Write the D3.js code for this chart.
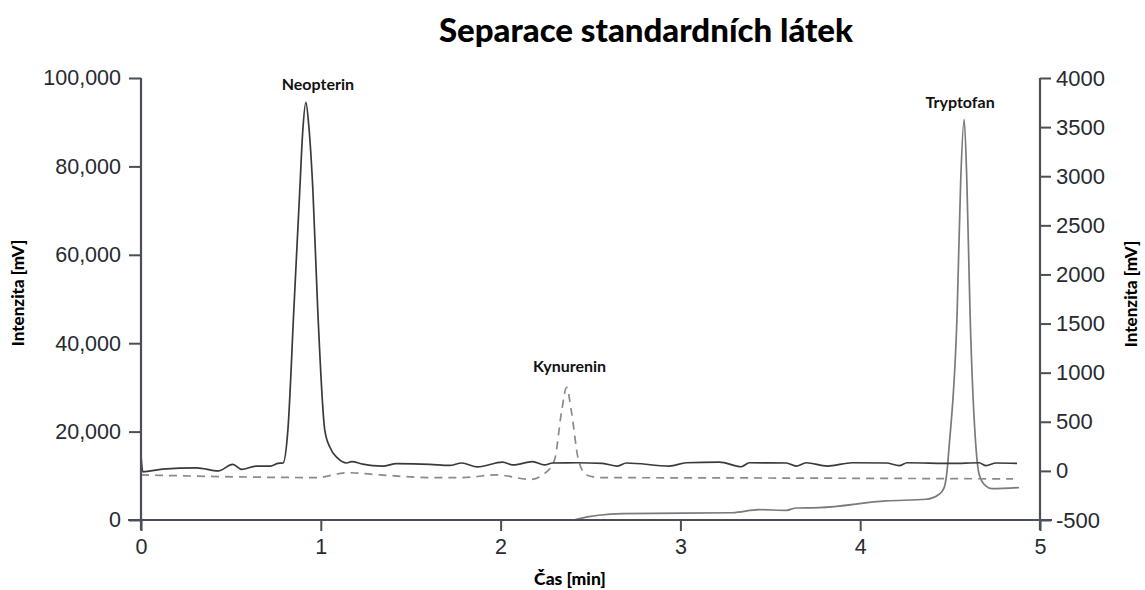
<!DOCTYPE html>
<html>
<head>
<meta charset="utf-8">
<script src="https://cdn.jsdelivr.net/npm/d3@7"></script>
<style>
  html, body { margin: 0; padding: 0; background: #fff; }
  svg { display: block; }
</style>
</head>
<body>
<svg id="chart" width="1145" height="590"></svg>
<script>
// ---- data ----
const title = "Separace standardních látek";
const xLabel = "Čas [min]";
const yLabelLeft = "Intenzita [mV]";
const yLabelRight = "Intenzita [mV]";

const xTicks = [0, 1, 2, 3, 4, 5];
const leftTicks = [0, 20000, 40000, 60000, 80000, 100000];
const rightTicks = [-500, 0, 500, 1000, 1500, 2000, 2500, 3000, 3500, 4000];

// Neopterin trace (left axis)
const timeNeo = [0, 0.01, 0.12, 0.31, 0.43, 0.51, 0.56, 0.64, 0.72, 0.76, 0.79, 0.817, 0.85, 0.883, 0.9, 0.917, 0.933, 0.956, 0.983, 1.022, 1.05, 1.094, 1.144, 1.172, 1.233, 1.289, 1.344, 1.422, 1.606, 1.717, 1.783, 1.872, 2.011, 2.067, 2.178, 2.244, 2.289, 2.422, 2.567, 2.65, 2.7, 2.939, 3.033, 3.217, 3.339, 3.383, 3.589, 3.644, 3.7, 3.817, 3.956, 4.144, 4.217, 4.261, 4.511, 4.661, 4.7, 4.756, 4.872];
const neopterin = [14700, 10900, 11500, 11800, 11100, 12600, 11450, 12200, 12200, 12800, 12900, 20400, 47500, 74600, 88200, 94500, 89300, 74600, 47500, 20400, 16500, 14000, 12900, 13200, 12650, 12300, 12200, 12750, 12600, 12350, 12900, 12000, 13100, 12450, 13200, 12450, 12900, 12950, 12800, 12200, 12900, 12200, 12950, 13100, 12050, 12950, 12900, 12200, 12950, 12200, 12950, 12900, 12300, 12950, 12800, 12950, 12300, 12900, 12800];

// Kynurenin trace (left axis, dashed)
const timeKyn = [0, 0.978, 1.144, 1.333, 1.606, 1.789, 1.978, 2.167, 2.244, 2.3, 2.339, 2.367, 2.394, 2.433, 2.478, 2.55, 3.5, 4.85];
const kynurenin = [10200, 9600, 10700, 10200, 9600, 9600, 10200, 9200, 10500, 13600, 24500, 30000, 24500, 13600, 10200, 9600, 9500, 9300];

// Tryptofan trace (right axis)
const timeTrp = [0, 2.411, 2.422, 2.678, 3.289, 3.439, 3.589, 3.644, 3.772, 4.144, 4.367, 4.439, 4.467, 4.483, 4.494, 4.539, 4.559, 4.578, 4.593, 4.611, 4.644, 4.661, 4.698, 4.733, 4.883];
const tryptofan = [-500, -500, -493, -436, -426, -395, -401, -378, -374, -306, -289, -238, -170, 0, 235, 1602, 2959, 3580, 2959, 1602, 235, -31, -153, -181, -170];

const peakNames = ["Neopterin", "Kynurenin", "Tryptofan"];

// ---- layout ----
const svg = d3.select("#chart");
const x = d3.scaleLinear().domain([0, 5]).range([141, 1040]);
const yL = d3.scaleLinear().domain([0, 100000]).range([520, 78]);
const yR = d3.scaleLinear().domain([-500, 4000]).range([520, 78]);

const axisColor = "#4a4f57";
const tickTextColor = "#262a31";
const labelFont = "Lato, 'Open Sans', sans-serif";
const tickFont = "'Liberation Sans', Arial, sans-serif";

// Title
svg.append("text")
  .attr("x", 646).attr("y", 42)
  .attr("text-anchor", "middle")
  .style("font-family", labelFont).style("font-weight", 900)
  .style("font-size", "33px").attr("fill", "#000")
  .text(title);

// Lines
const lineL = d3.line().x((d) => x(d[0])).y((d) => yL(d[1])).curve(d3.curveMonotoneX);
const lineR = d3.line().x((d) => x(d[0])).y((d) => yR(d[1])).curve(d3.curveMonotoneX);

svg.append("path")
  .datum(d3.zip(timeTrp, tryptofan))
  .attr("d", lineR).attr("fill", "none")
  .attr("stroke", "#7a7a7a").attr("stroke-width", 1.7);

svg.append("path")
  .datum(d3.zip(timeKyn, kynurenin))
  .attr("d", lineL).attr("fill", "none")
  .attr("stroke", "#8a8a8a").attr("stroke-width", 1.7)
  .attr("stroke-dasharray", "8,6");

svg.append("path")
  .datum(d3.zip(timeNeo, neopterin))
  .attr("d", lineL).attr("fill", "none")
  .attr("stroke", "#3a3a3a").attr("stroke-width", 1.7);

// Axes
const gx = svg.append("g").attr("transform", `translate(0,${yL(0)})`)
  .call(d3.axisBottom(x).tickValues(xTicks).tickFormat((d) => String(d)).tickSize(11).tickSizeOuter(0).tickPadding(8));
const gl = svg.append("g").attr("transform", `translate(${x(0)},0)`)
  .call(d3.axisLeft(yL).tickValues(leftTicks).tickFormat(d3.format(",")).tickSize(12).tickSizeOuter(0).tickPadding(8));
const gr = svg.append("g").attr("transform", `translate(${x(5)},0)`)
  .call(d3.axisRight(yR).tickValues(rightTicks).tickFormat((d) => String(d)).tickSize(11).tickSizeOuter(0).tickPadding(5));

[gx, gl, gr].forEach((g) => {
  g.select(".domain").remove();
  g.selectAll(".tick line").attr("stroke", axisColor).attr("stroke-width", 2);
  g.selectAll(".tick text")
    .style("font-family", tickFont).style("font-size", "21.5px")
    .attr("fill", tickTextColor);
});
gr.selectAll(".tick text").style("font-size", "22px");

// Axis lines (with small overhang at the corners)
svg.append("line")
  .attr("x1", x(0) - 13).attr("x2", x(5) + 12)
  .attr("y1", yL(0)).attr("y2", yL(0))
  .attr("stroke", axisColor).attr("stroke-width", 2.2);
svg.append("line")
  .attr("x1", x(0)).attr("x2", x(0))
  .attr("y1", yL(100000)).attr("y2", yL(0) + 10)
  .attr("stroke", axisColor).attr("stroke-width", 2.2);
svg.append("line")
  .attr("x1", x(5)).attr("x2", x(5))
  .attr("y1", yR(4000)).attr("y2", yR(-500) + 10)
  .attr("stroke", axisColor).attr("stroke-width", 2.2);

// Axis titles
svg.append("text")
  .attr("x", 570).attr("y", 585)
  .attr("text-anchor", "middle")
  .style("font-family", labelFont).style("font-weight", 900)
  .style("font-size", "17.5px").attr("fill", "#000")
  .text(xLabel);

svg.append("text")
  .attr("transform", "translate(24,293) rotate(-90)")
  .attr("text-anchor", "middle")
  .style("font-family", labelFont).style("font-weight", 900)
  .style("font-size", "17px").attr("fill", "#000")
  .text(yLabelLeft);

svg.append("text")
  .attr("transform", "translate(1137,294) rotate(-90)")
  .attr("text-anchor", "middle")
  .style("font-family", labelFont).style("font-weight", 900)
  .style("font-size", "17px").attr("fill", "#000")
  .text(yLabelRight);

// Peak labels, placed above each trace maximum
const peaks = [
  { name: peakNames[0], t: timeNeo[d3.maxIndex(neopterin)], y: yL(d3.max(neopterin)) , dx: 12, dy: -12 },
  { name: peakNames[1], t: timeKyn[d3.maxIndex(kynurenin)], y: yL(d3.max(kynurenin)), dx: 3, dy: -15 },
  { name: peakNames[2], t: timeTrp[d3.maxIndex(tryptofan)], y: yR(d3.max(tryptofan)), dx: -4, dy: -11 }
];
svg.selectAll(".peak").data(peaks).join("text")
  .attr("class", "peak")
  .attr("x", (d) => x(d.t) + d.dx).attr("y", (d) => d.y + d.dy)
  .attr("text-anchor", "middle")
  .style("font-family", labelFont).style("font-weight", 700)
  .style("font-size", "16px").attr("fill", "#111")
  .text((d) => d.name);
</script>
</body>
</html>
